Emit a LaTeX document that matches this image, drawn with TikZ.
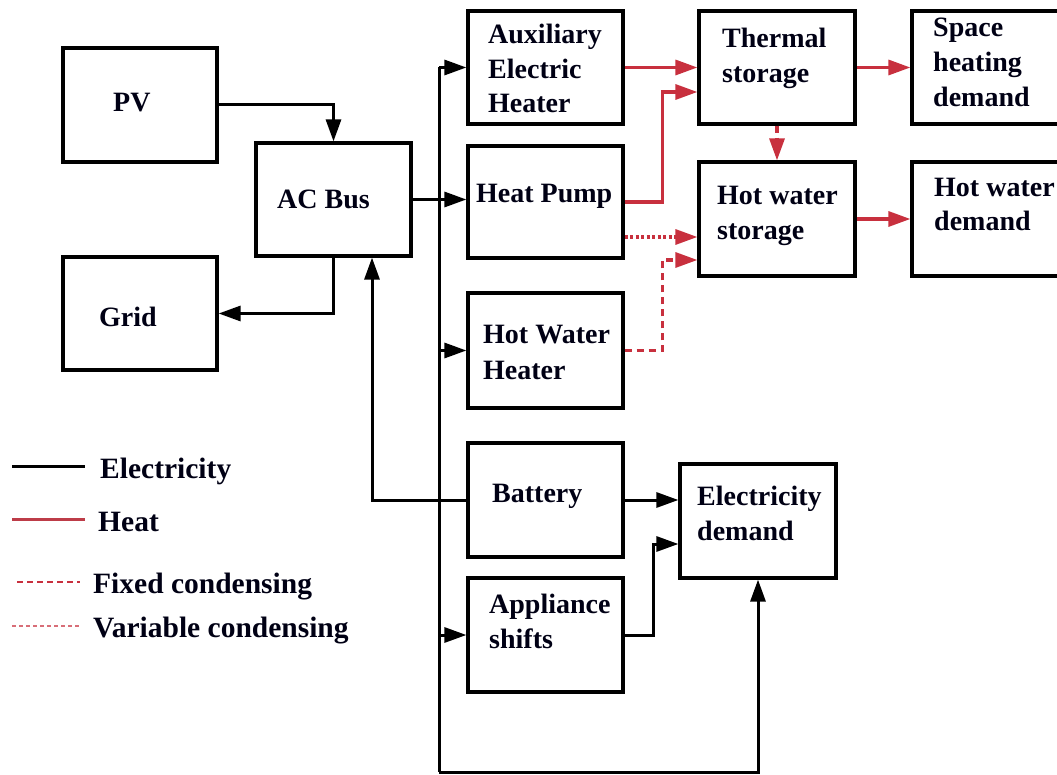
\documentclass[tikz,border=0pt]{standalone}
\usepackage{fontspec}
\setmainfont{Liberation Serif}
\usetikzlibrary{arrows.meta,calc}
\definecolor{heatred}{RGB}{200,48,62}
\begin{document}
\begin{tikzpicture}[x=1pt,y=-1pt,
  box/.style={draw=black, line width=3.2pt, inner sep=0pt, rectangle},
  txt/.style={inner sep=0pt, anchor=base west, font=\fontsize{28}{34}\selectfont\bfseries, text=black!92!blue},
  legtxt/.style={txt, font=\fontsize{29.5}{34}\selectfont\bfseries},
  tip/.style={-{Triangle[length=22pt,width=15pt]}},
  elec/.style={draw=black, line width=3pt, tip},
  heat/.style={draw=heatred, line width=3.2pt, tip},
  fixedc/.style={heat, dash pattern=on 7pt off 5pt},
  varc/.style={heat, dash pattern=on 3pt off 2.5pt}
]
\useasboundingbox (0,0) rectangle (1057,775);
\clip (0,0) rectangle (1057,775);

% boxes
\node[box, minimum width=154pt, minimum height=114pt] (pv) at (140,105) {};
\node[box, minimum width=155pt, minimum height=113pt] (acbus) at (333.5,199.5) {};
\node[box, minimum width=154pt, minimum height=113pt] (grid) at (140,313.5) {};
\node[box, minimum width=155pt, minimum height=113pt] (aux) at (545.5,67.5) {};
\node[box, minimum width=155pt, minimum height=112pt] (hp) at (545.5,202) {};
\node[box, minimum width=155pt, minimum height=115pt] (hwh) at (545.5,350.5) {};
\node[box, minimum width=155pt, minimum height=114pt] (batt) at (545.5,500) {};
\node[box, minimum width=155pt, minimum height=114pt] (app) at (545.5,635) {};
\node[box, minimum width=156pt, minimum height=113pt] (ts) at (777,67.5) {};
\node[box, minimum width=156pt, minimum height=114pt] (hws) at (777,219) {};
\node[box, minimum width=148pt, minimum height=113pt] (shd) at (986,67.5) {};
\node[box, minimum width=148pt, minimum height=114pt] (hwd) at (986,219) {};
\node[box, minimum width=156pt, minimum height=114pt] (ed) at (758,521) {};

% texts
\node[txt] (t-pv) at (113,112) {PV};
\node[txt] (t-ac) at (277,209) {AC Bus};
\node[txt] (t-grid) at (99,327) {Grid};
\node[txt] (t-aux1) at (488,44) {Auxiliary};
\node[txt] (t-aux2) at (488,79) {Electric};
\node[txt] (t-aux3) at (488,113) {Heater};
\node[txt] (t-hp) at (476,203) {Heat Pump};
\node[txt] (t-hwh1) at (483,344) {Hot Water};
\node[txt] (t-hwh2) at (483,379) {Heater};
\node[txt] (t-batt) at (492,502) {Battery};
\node[txt] (t-app1) at (489,613) {Appliance};
\node[txt] (t-app2) at (489,648) {shifts};
\node[txt] (t-ts1) at (722,48) {Thermal};
\node[txt] (t-ts2) at (722,83) {storage};
\node[txt] (t-hws1) at (717,205) {Hot water};
\node[txt] (t-hws2) at (717,240) {storage};
\node[txt] (t-shd1) at (933,37) {Space};
\node[txt] (t-shd2) at (933,72) {heating};
\node[txt] (t-shd3) at (933,107) {demand};
\node[txt] (t-hwd1) at (934,197) {Hot water};
\node[txt] (t-hwd2) at (934,231) {demand};
\node[txt] (t-ed1) at (697,505) {Electricity};
\node[txt] (t-ed2) at (697,540) {demand};

% bus coordinates
\coordinate (bustop) at (439,67.5);
\coordinate (busbot) at (439,772);

% electricity connectors
\draw[elec] (pv.east) -| (acbus.north);
\draw[elec] (acbus.south) |- (grid.east);
\draw[elec] (batt.west) -| ([xshift=38.5pt]acbus.south);
\draw[elec] (acbus.east) -- (acbus.east -| hp.west);
\draw[elec, -] (bustop) -- (busbot);
\draw[elec] (busbot) -| (ed.south);
\draw[elec] (aux.west -| bustop) -- (aux.west);
\draw[elec] (hwh.west -| bustop) -- (hwh.west);
\draw[elec] (app.west -| bustop) -- (app.west);
\draw[elec] (batt.east) -- (batt.east -| ed.west);
\draw[elec] (app.east) -- ++(29,0) |- ([yshift=-23pt]ed.west);

% heat connectors
\draw[heat] (aux.east) -- (ts.west);
\draw[heat] (hp.east) -- ++(38,0) |- ([yshift=-24.5pt]ts.west);
\draw[varc] ([yshift=-35pt]hp.east) -- ([yshift=-35pt]hp.east -| hws.west);
\draw[fixedc] (hwh.east) -- ++(38,0) |- ([yshift=-41pt]hws.west);
\draw[fixedc] (ts.south) -- (hws.north);
\draw[heat] (ts.east) -- (shd.west);
\draw[heat] (hws.east) -- (hws.east -| hwd.west);

% legend
\draw[line width=3pt, black] (12,466) -- (85,466);
\node[legtxt] (l-el) at (100,478) {Electricity};
\draw[line width=3pt, heatred!85!gray] (12,519) -- (85,519);
\node[legtxt] (l-heat) at (98,531) {Heat};
\draw[line width=2pt, heatred, dash pattern=on 6pt off 4pt] (17,582) -- (80,582);
\node[legtxt] (l-fix) at (93,593) {Fixed condensing};
\draw[line width=2pt, heatred!70!white, dash pattern=on 4pt off 3pt] (12,626) -- (80,626);
\node[legtxt] (l-var) at (93,637) {Variable condensing};
\end{tikzpicture}
\end{document}
